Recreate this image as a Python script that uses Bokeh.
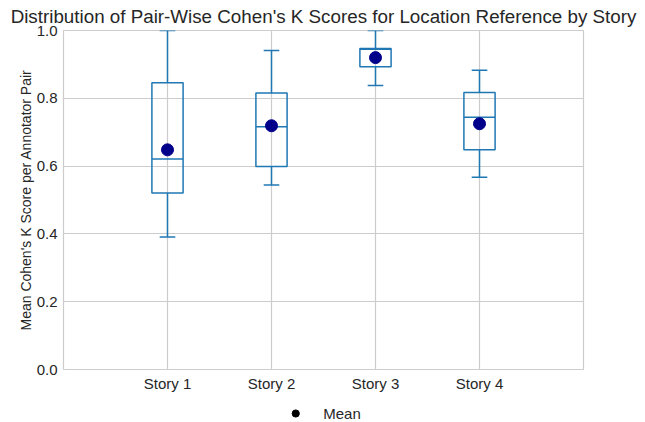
from bokeh.plotting import figure
from bokeh.layouts import column
from bokeh.models import (Range1d, FixedTicker, ColumnDataSource, Legend, LegendItem,
                          NumeralTickFormatter)
from bokeh.embed import file_html
from bokeh.resources import INLINE

stories = ["Story 1", "Story 2", "Story 3", "Story 4"]
lower = [0.391, 0.544, 0.838, 0.567]
q1 = [0.521, 0.599, 0.893, 0.648]
median = [0.621, 0.716, 0.945, 0.744]
q3 = [0.846, 0.816, 0.947, 0.817]
upper = [1.0, 0.941, 1.0, 0.883]
means = [0.648, 0.719, 0.920, 0.725]

pos = list(range(1, len(stories) + 1))
box_w = 0.3
cap_w = 0.15

src = ColumnDataSource(dict(
    x=pos, lower=lower, q1=q1, median=median, q3=q3, upper=upper, mean=means,
    bl=[p - box_w / 2 for p in pos], br=[p + box_w / 2 for p in pos],
    cl=[p - cap_w / 2 for p in pos], cr=[p + cap_w / 2 for p in pos],
))

FONT = "Liberation Sans"
BLUE = "#1f77b4"
W = 640
MAIN_H = 394
LEG_H = 28

p = figure(width=W, height=MAIN_H, output_backend="svg", toolbar_location=None,
           x_range=Range1d(0, 5), y_range=Range1d(0, 1),
           title="Distribution of Pair-Wise Cohen's K Scores for Location Reference by Story",
           min_border_left=63, min_border_right=57, min_border_top=0, min_border_bottom=0)

p.title.text_font = FONT
p.title.text_font_size = "18.8px"
p.title.text_font_style = "normal"
p.title.text_color = "#262626"
p.title.align = "center"
p.title.standoff = 7

p.outline_line_color = "#cccccc"
p.outline_line_width = 1.2
p.background_fill_color = "white"

for ax in (p.xaxis[0], p.yaxis[0]):
    ax.axis_line_color = None
    ax.major_tick_line_color = None
    ax.minor_tick_line_color = None
    ax.major_tick_out = 0
    ax.major_tick_in = 0
    ax.minor_tick_out = 0
    ax.minor_tick_in = 0
    ax.major_label_text_font = FONT
    ax.major_label_text_font_size = "15px"
    ax.major_label_text_color = "#262626"

p.xaxis.major_label_standoff = 5
p.yaxis.major_label_standoff = 6
p.xaxis.axis_label_standoff = 0

p.xaxis.ticker = FixedTicker(ticks=pos)
p.xaxis.major_label_overrides = {pp: s for pp, s in zip(pos, stories)}
p.yaxis.ticker = FixedTicker(ticks=[0.0, 0.2, 0.4, 0.6, 0.8, 1.0])
p.yaxis.formatter = NumeralTickFormatter(format="0.0")
p.yaxis.axis_label = "Mean Cohen's K Score per Annotator Pair"
p.yaxis.axis_label_text_font = FONT
p.yaxis.axis_label_text_font_size = "14px"
p.yaxis.axis_label_text_font_style = "normal"
p.yaxis.axis_label_text_color = "#262626"
p.yaxis.axis_label_standoff = 0

p.xgrid.grid_line_color = "#cccccc"
p.ygrid.grid_line_color = "#cccccc"
p.xgrid.grid_line_width = 1.2
p.ygrid.grid_line_width = 1.2

# whiskers
p.segment(x0="x", y0="q3", x1="x", y1="upper", source=src, line_color=BLUE, line_width=1.5)
p.segment(x0="x", y0="lower", x1="x", y1="q1", source=src, line_color=BLUE, line_width=1.5)
# caps
p.segment(x0="cl", y0="upper", x1="cr", y1="upper", source=src, line_color=BLUE, line_width=1.5)
p.segment(x0="cl", y0="lower", x1="cr", y1="lower", source=src, line_color=BLUE, line_width=1.5)
# boxes
p.quad(left="bl", right="br", bottom="q1", top="q3", source=src,
       fill_color=None, line_color=BLUE, line_width=1.5)
# medians
p.segment(x0="bl", y0="median", x1="br", y1="median", source=src, line_color=BLUE, line_width=1.5)
# means
p.scatter(x="x", y="mean", source=src, size=12, fill_color="#00008b", line_color="#00008b")

# legend strip
lg = figure(width=W, height=LEG_H, output_backend="svg", toolbar_location=None,
            x_range=Range1d(0, 1), y_range=Range1d(0, 1),
            x_axis_location=None, y_axis_location=None,
            min_border_left=0, min_border_right=0, min_border_top=0, min_border_bottom=0)
lg.grid.visible = False
lg.outline_line_color = None
proxy = lg.scatter(x=[5.0], y=[5.0], size=8, fill_color="black", line_color="black")
legend = Legend(items=[LegendItem(label="Mean", renderers=[proxy])],
                location="bottom_center", orientation="horizontal",
                border_line_color=None, background_fill_alpha=0,
                label_text_font=FONT, label_text_font_size="15px", label_text_color="#262626",
                margin=0, padding=1, glyph_width=20, glyph_height=18, label_height=18,
                label_standoff=18)
lg.add_layout(legend, "center")

layout = column(p, lg, spacing=0)
open("out.html", "w").write(file_html(layout, INLINE))
